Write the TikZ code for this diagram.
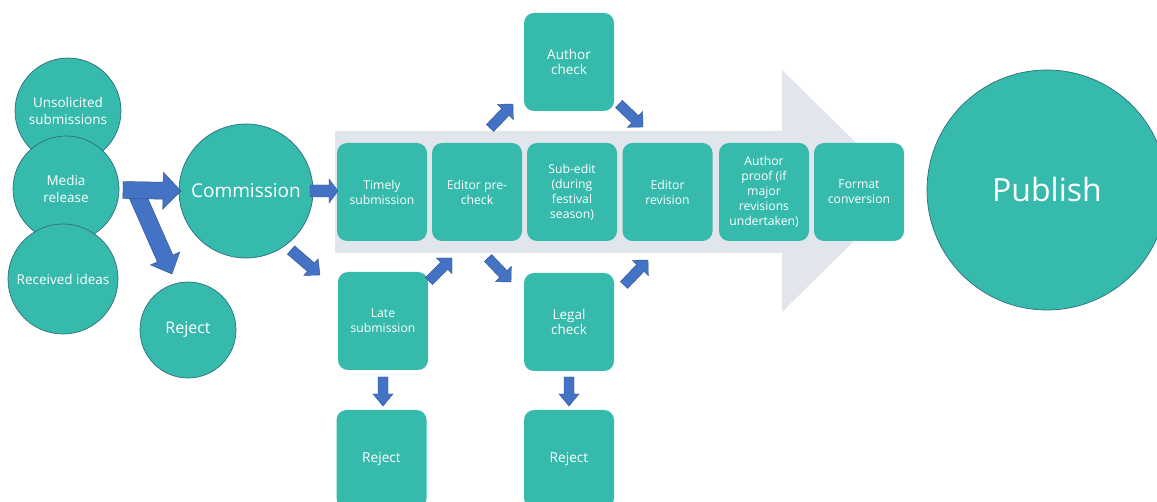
\documentclass[tikz,border=0pt]{standalone}
\usepackage{fontspec}
\setmainfont{Open Sans}
\usetikzlibrary{calc}
\definecolor{tealfill}{HTML}{35BAAC}
\definecolor{ring}{HTML}{2F6E7E}
\definecolor{blu}{HTML}{4472C4}
\definecolor{blud}{HTML}{2F528F}
\definecolor{band}{HTML}{E1E5EC}
% #1 start, #2 end, #3 half shaft, #4 half head, #5 head length
\newcommand{\blockarr}[5]{%
  \path ($(#2)!#5!(#1)$) coordinate (hb);
  \path[blockarrow] ($(#1)!#3!90:(#2)$) -- ($(hb)!#3!90:(#2)$) -- ($(hb)!#4!90:(#2)$)
     -- (#2) -- ($(hb)!#4!-90:(#2)$) -- ($(hb)!#3!-90:(#2)$) -- ($(#1)!#3!-90:(#2)$) -- cycle;
}
\begin{document}
\begin{tikzpicture}[x=1pt,y=-1pt,
  blockarrow/.style={fill=blu, draw=blud, line width=0.4pt},
  circ/.style={circle, fill=tealfill, draw=ring, line width=0.7pt, text=white, align=center, inner sep=0pt},
  box/.style={rectangle, rounded corners=10pt, fill=tealfill, text=white, align=center,
    minimum width=90pt, minimum height=98pt, inner sep=1pt, font=\fontsize{12.2}{15}\selectfont},
  bigbox/.style={box, font=\fontsize{13.5}{15.5}\selectfont}]
\clip (0,0) rectangle (1157,502);
\fill[white] (0,0) rectangle (1157,502);
% background arrow
\fill[band] (335,131) -- (782,131) -- (782,70) -- (905,191) -- (782,312) -- (782,253) -- (335,253) -- cycle;
% circles
\node[circ, minimum size=106pt, font=\fontsize{13.5}{17}\selectfont] (uns) at (68,111) {Unsolicited\\submissions};
\node[circ, minimum size=106pt, font=\fontsize{13.5}{17}\selectfont] (med) at (66,189) {Media\\release};
\node[circ, minimum size=110pt, font=\fontsize{13.5}{17}\selectfont] (rec) at (63,279) {Received ideas};
\node[circ, minimum size=96pt, font=\fontsize{16}{19}\selectfont] (rej0) at (188,330) {Reject};
\node[circ, minimum size=134pt, font=\fontsize{19}{23}\selectfont] (com) at (246,191) {Commission};
\node[circ, minimum size=240pt, font=\fontsize{32}{38}\selectfont] (pub) at (1047,190) {Publish};
% boxes in the band
\node[box] (tim) at (382,192) {Timely\\submission};
\node[box] (pre) at (477,192) {Editor pre-\\check};
\node[box] (sub) at (572,192) {Sub-edit\\(during\\festival\\season)};
\node[box] (rev) at (667.5,192) {Editor\\revision};
\node[box] (prf) at (764,192) {Author\\proof (if\\major\\revisions\\undertaken)};
\node[box] (fmt) at (859,192) {Format\\conversion};
% boxes off the band
\node[bigbox] (ach) at (569,62) {Author\\check};
\node[box] (late) at (383,321) {Late\\submission};
\node[bigbox] (leg) at (569,322) {Legal\\check};
\node[box, font=\fontsize{13.7}{16}\selectfont] (rejA) at (381.5,459) {Reject};
\node[box, font=\fontsize{13.7}{16}\selectfont] (rejB) at (569,459) {Reject};
% arrow end points
\coordinate (m2cA) at (123,190); \coordinate (m2cB) at (181,191);
\coordinate (m2rA) at (134,188); \coordinate (m2rB) at (172,274);
\coordinate (c2tA) at (310,191); \coordinate (c2tB) at (338,191);
\coordinate (c2lA) at (291,250); \coordinate (c2lB) at (320,275);
\coordinate (l2eA) at (429,281); \coordinate (l2eB) at (452,258);
\coordinate (e2gA) at (488,258); \coordinate (e2gB) at (511,282);
\coordinate (g2rA) at (624,285); \coordinate (g2rB) at (648,260);
\coordinate (e2aA) at (490,128); \coordinate (e2aB) at (513,104);
\coordinate (a2rA) at (619,104); \coordinate (a2rB) at (643,127);
\coordinate (l2jA) at (383,377); \coordinate (l2jB) at (383,406);
\coordinate (g2jA) at (569,377); \coordinate (g2jB) at (569,406);
% block arrows
\blockarr{m2rA}{m2rB}{8.5pt}{16pt}{17pt}
\blockarr{m2cA}{m2cB}{8.5pt}{18.5pt}{18pt}
\blockarr{c2tA}{c2tB}{6pt}{12pt}{9pt}
\blockarr{c2lA}{c2lB}{5.5pt}{11pt}{12pt}
\blockarr{l2eA}{l2eB}{5pt}{11pt}{11pt}
\blockarr{e2gA}{e2gB}{5pt}{11pt}{11pt}
\blockarr{g2rA}{g2rB}{5pt}{11pt}{11pt}
\blockarr{e2aA}{e2aB}{5pt}{11pt}{11pt}
\blockarr{a2rA}{a2rB}{5pt}{11pt}{11pt}
\blockarr{l2jA}{l2jB}{5pt}{10pt}{12pt}
\blockarr{g2jA}{g2jB}{5pt}{10pt}{12pt}
\end{tikzpicture}
\end{document}
